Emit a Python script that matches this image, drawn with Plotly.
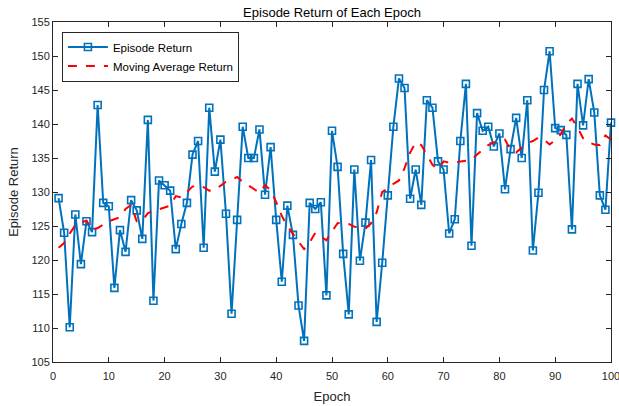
import plotly.graph_objects as go

epochs = list(range(1, 101))

episode_return = [
    129.1, 124.0, 110.1, 126.7, 119.4, 125.7, 124.1, 142.8, 128.4, 127.9,
    115.9, 124.4, 121.2, 128.8, 127.3, 123.1, 140.6, 114.0, 131.7, 131.0,
    130.2, 121.6, 125.3, 128.4, 135.5, 137.5, 121.8, 142.4, 133.0, 137.7,
    126.8, 112.1, 125.9, 139.6, 135.0, 135.0, 139.2, 129.6, 136.6, 125.9,
    116.8, 128.0, 123.7, 113.3, 108.1, 128.4, 127.5, 128.5, 114.8, 139.0,
    133.7, 120.9, 112.0, 133.3, 119.9, 125.5, 134.7, 110.9, 119.6, 129.5,
    139.6, 146.7, 145.3, 129.0, 133.3, 128.1, 143.5, 142.4, 134.5, 133.3,
    123.9, 126.0, 137.5, 145.9, 122.1, 141.6, 139.0, 139.6, 136.7, 138.6,
    130.4, 136.3, 140.9, 135.0, 143.5, 121.4, 129.9, 145.0, 150.7, 139.4,
    139.1, 138.4, 124.5, 145.9, 139.8, 146.6, 141.7, 129.5, 127.4, 140.2,
]

moving_average = [
    121.8, 122.5, 123.9, 125.1, 125.5, 125.8, 124.4, 124.7, 125.2, 125.7,
    126.0, 126.3, 127.5, 128.1, 125.7, 125.8, 126.9, 127.2, 127.4, 127.7,
    128.0, 129.4, 129.2, 130.0, 130.8, 131.0, 130.7, 130.2, 130.3, 130.9,
    131.5, 131.8, 132.2, 131.5, 131.0, 130.4, 129.9, 131.0, 130.3, 128.5,
    126.5, 125.0, 123.8, 122.7, 121.6, 122.6, 124.0, 123.5, 122.9, 124.2,
    125.4, 125.5, 125.3, 124.9, 124.7, 124.6, 125.4, 127.0, 130.0, 130.5,
    131.2, 131.7, 133.5, 135.8, 137.3, 136.9, 135.5, 134.0, 133.4, 134.5,
    134.3, 134.3, 134.5, 134.6, 134.7, 135.5, 136.2, 136.9, 137.3, 137.5,
    137.7, 136.2, 135.8, 136.5, 137.2, 137.5, 138.0, 137.7, 137.0, 137.6,
    138.5, 140.0, 140.8, 139.5, 137.9, 137.3, 137.0, 136.9, 138.3, 137.7,
]

x_ticks = list(range(0, 101, 10))
y_ticks = list(range(105, 156, 5))

axis_color = "#262626"
font_family = "Liberation Sans, Arial, sans-serif"

fig = go.Figure()
fig.add_trace(go.Scatter(
    x=epochs, y=episode_return, mode="lines+markers",
    name="Episode Return",
    line=dict(color="#0072BD", width=2),
    marker=dict(symbol="square-open", size=7, color="#0072BD",
                line=dict(width=1.6, color="#0072BD")),
    cliponaxis=False,
))
fig.add_trace(go.Scatter(
    x=epochs, y=moving_average, mode="lines",
    name="Moving Average Return",
    line=dict(color="#FF0000", width=2, dash="dash"),
))

fig.update_layout(
    width=619, height=406,
    margin=dict(l=53, r=8, t=22, b=44, autoexpand=False),
    paper_bgcolor="white", plot_bgcolor="white",
    font=dict(family=font_family, size=11, color=axis_color),
    title=dict(text="Episode Return of Each Epoch", x=0.5, xref="paper",
               xanchor="center", y=1 - 12 / 406, yref="container",
               yanchor="middle", font=dict(size=13, color="#000000")),
    showlegend=True,
    legend=dict(x=0.016, y=0.972, xanchor="left", yanchor="top",
                bgcolor="white", bordercolor=axis_color, borderwidth=1,
                font=dict(size=11.5, color="#000000"),
                tracegroupgap=0, itemwidth=40),
)
fig.update_xaxes(
    range=[0, 100], tickvals=x_ticks, ticks="inside", ticklen=5,
    tickcolor=axis_color, showline=True, linecolor=axis_color, linewidth=1,
    mirror="allticks", showgrid=False, zeroline=False,
    ticklabeloverflow="allow", ticklabelstandoff=4,
    title=dict(text="Epoch", font=dict(size=13, color=axis_color), standoff=10),
    tickfont=dict(size=11, color=axis_color),
)
fig.update_yaxes(
    range=[105, 155], tickvals=y_ticks, ticks="inside", ticklen=5,
    tickcolor=axis_color, showline=True, linecolor=axis_color, linewidth=1,
    mirror="allticks", showgrid=False, zeroline=False,
    title=dict(text="Episode Return", font=dict(size=13, color=axis_color), standoff=9),
    tickfont=dict(size=11, color=axis_color),
)

fig.write_html(
    "out.html",
    config={"displayModeBar": False},
    post_script="document.body.style.margin='0';document.body.style.overflow='hidden';",
)
